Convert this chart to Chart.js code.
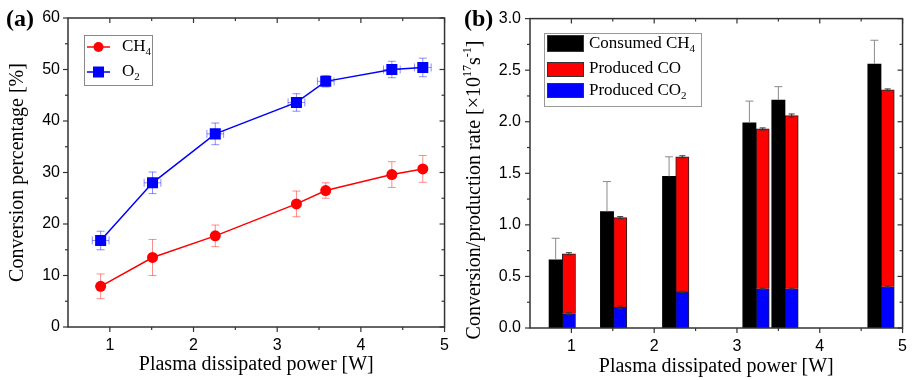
<!DOCTYPE html>
<html>
<head>
<meta charset="utf-8">
<script src="https://cdn.jsdelivr.net/npm/chart.js@4"></script>
<style>
body{margin:0;background:#fff;}
#wrap{position:relative;width:916px;height:380px;}
.box{position:absolute;top:0;width:458px;height:380px;}
</style>
</head>
<body>
<div id="wrap">
<div class="box" style="left:0"><canvas id="convChart" width="458" height="380"></canvas></div>
<div class="box" style="left:458px"><canvas id="rateChart" width="458" height="380"></canvas></div>
</div>
<script>
/* panel (a) data */
const power = [0.89, 1.51, 2.26, 3.23, 3.58, 4.37, 4.74];//W
const powerErr = [0.1, 0.1, 0.1, 0.1, 0.1, 0.1, 0.1];
const ch4Conv = [7.9, 13.5, 17.7, 23.9, 26.5, 29.6, 30.7];//%
const ch4ConvErr = [2.4, 3.5, 2.1, 2.5, 1.5, 2.5, 2.6];
const o2Conv = [16.8, 28.0, 37.5, 43.6, 47.7, 50.0, 50.4];//%
const o2ConvErr = [1.8, 2.1, 2.1, 1.7, 1.1, 1.6, 1.8];

/* panel (b) data, x1e17 s-1 */
const ratePower = [0.89, 1.51, 2.26, 3.23, 3.58, 4.74];
const consumedCH4 = [0.66, 1.13, 1.47, 1.99, 2.21, 2.56];
const consumedCH4Err = [0.21, 0.29, 0.19, 0.21, 0.13, 0.23];
const producedCO = [0.58, 0.87, 1.31, 1.55, 1.68, 1.91];
const producedCOErr = [0.01, 0.01, 0.01, 0.01, 0.015, 0.008];
const producedCO2 = [0.14, 0.20, 0.35, 0.38, 0.38, 0.40];
const producedCO2Err = [0.008, 0.015, 0.006, 0.006, 0.006, 0.006];

/* axis ticks */
const xTicks = [1, 2, 3, 4, 5];
const xMinor = [1.5, 2.5, 3.5, 4.5];
const yTicksA = [0, 10, 20, 30, 40, 50, 60];
const yMinorA = [5, 15, 25, 35, 45, 55];
const yTicksB = [0, 0.5, 1, 1.5, 2, 2.5, 3];
const yMinorB = [0.25, 0.75, 1.25, 1.75, 2.25, 2.75];

const barShift = 0.08;//W, half distance between the two bars of a pair

Chart.defaults.color = '#000';
const tickFont = {family: 'Liberation Sans', size: 16};
const titleFont = {family: 'Liberation Serif', size: 20};
const serif = 'Liberation Serif';

//text with sub/superscripts, parts = [[text, 'n'|'sub'|'sup'], ...]
function richWidth(ctx, parts, size) {
    let w = 0;
    parts.forEach(([t, k]) => {
        ctx.font = (k === 'n' ? size : Math.round(size * 0.62)) + 'px ' + serif;
        w += ctx.measureText(t).width;
    });
    return w;
}
function richText(ctx, parts, x, y, size) {
    let cx = x;
    ctx.textBaseline = 'middle';
    ctx.textAlign = 'left';
    parts.forEach(([t, k]) => {
        ctx.font = (k === 'n' ? size : Math.round(size * 0.62)) + 'px ' + serif;
        let dy = 0;
        if (k === 'sub') dy = size * 0.32;
        if (k === 'sup') dy = -size * 0.35;
        ctx.fillText(t, cx, y + dy);
        cx += ctx.measureText(t).width;
    });
}

//frame + Origin-like ticks
const frameTicks = {
    id: 'frameTicks',
    afterDraw(chart, args, opts) {
        const {ctx, chartArea: a, scales: {x, y}} = chart;
        ctx.save();
        ctx.strokeStyle = '#333';
        ctx.lineWidth = 1.5;
        ctx.strokeRect(a.left, a.top, a.right - a.left, a.bottom - a.top);
        ctx.lineWidth = 1.2;
        const seg = (x1, y1, x2, y2) => { ctx.beginPath(); ctx.moveTo(x1, y1); ctx.lineTo(x2, y2); ctx.stroke(); };
        xTicks.forEach(v => { const p = x.getPixelForValue(v); seg(p, a.bottom, p, a.bottom + 5); seg(p, a.top, p, a.top + 5); });
        xMinor.forEach(v => { const p = x.getPixelForValue(v); seg(p, a.bottom, p, a.bottom + 3); seg(p, a.top, p, a.top + 3); });
        opts.yMajor.forEach(v => { const p = y.getPixelForValue(v); seg(a.left - 5, p, a.left, p); seg(a.right - 5, p, a.right, p); });
        opts.yMinor.forEach(v => { const p = y.getPixelForValue(v); seg(a.left - 3, p, a.left, p); seg(a.right - 3, p, a.right, p); });
        //panel letter
        ctx.fillStyle = '#000';
        ctx.font = 'bold 24px ' + serif;
        ctx.textBaseline = 'middle';
        ctx.textAlign = 'left';
        ctx.fillText(opts.letter, 6, 20);
        ctx.restore();
    }
};

//error bars for the line chart
const errorBarsA = {
    id: 'errorBarsA',
    beforeDatasetsDraw(chart) {
        const {ctx, scales: {x, y}} = chart;
        ctx.save();
        chart.data.datasets.forEach((ds, di) => {
            const meta = chart.getDatasetMeta(di);
            ctx.strokeStyle = ds.errColor;
            ctx.lineWidth = 1;
            meta.data.forEach((pt, i) => {
                const v = ds.data[i];
                const y1 = y.getPixelForValue(v.y + ds.yErr[i]);
                const y2 = y.getPixelForValue(v.y - ds.yErr[i]);
                ctx.beginPath();
                ctx.moveTo(pt.x, y1); ctx.lineTo(pt.x, y2);
                ctx.moveTo(pt.x - 4, y1); ctx.lineTo(pt.x + 4, y1);
                ctx.moveTo(pt.x - 4, y2); ctx.lineTo(pt.x + 4, y2);
                if (ds.xErr) {
                    const x1 = x.getPixelForValue(v.x - ds.xErr[i]);
                    const x2 = x.getPixelForValue(v.x + ds.xErr[i]);
                    ctx.moveTo(x1, pt.y); ctx.lineTo(x2, pt.y);
                    ctx.moveTo(x1, pt.y - 4); ctx.lineTo(x1, pt.y + 4);
                    ctx.moveTo(x2, pt.y - 4); ctx.lineTo(x2, pt.y + 4);
                }
                ctx.stroke();
            });
        });
        ctx.restore();
    }
};

//error bars for the bar chart
const errorBarsB = {
    id: 'errorBarsB',
    afterDatasetsDraw(chart) {
        const {ctx, scales: {y}} = chart;
        ctx.save();
        chart.data.datasets.forEach((ds, di) => {
            const meta = chart.getDatasetMeta(di);
            ctx.strokeStyle = ds.errColor;
            ctx.lineWidth = 1;
            meta.data.forEach((bar, i) => {
                const d = y.getPixelForValue(0) - y.getPixelForValue(ds.yErr[i]);
                const top = bar.y - d;
                const bot = ds.upOnly ? bar.y : bar.y + d;
                const cap = ds.upOnly ? 4 : 3;
                ctx.beginPath();
                ctx.moveTo(bar.x, top); ctx.lineTo(bar.x, bot);
                ctx.moveTo(bar.x - cap, top); ctx.lineTo(bar.x + cap, top);
                if (!ds.upOnly) { ctx.moveTo(bar.x - cap, bot); ctx.lineTo(bar.x + cap, bot); }
                ctx.stroke();
            });
        });
        ctx.restore();
    }
};

const legendA = {
    id: 'legendA',
    afterDraw(chart) {
        const ctx = chart.ctx;
        ctx.save();
        ctx.strokeStyle = '#888';
        ctx.lineWidth = 1;
        ctx.strokeRect(84.5, 35.5, 68, 50);
        //CH4
        ctx.strokeStyle = '#ff0000'; ctx.lineWidth = 1.5;
        ctx.beginPath(); ctx.moveTo(87, 47); ctx.lineTo(110, 47); ctx.stroke();
        ctx.fillStyle = '#ff0000';
        ctx.beginPath(); ctx.arc(98.5, 47, 5, 0, Math.PI * 2); ctx.fill();
        //O2
        ctx.strokeStyle = '#0000ff';
        ctx.beginPath(); ctx.moveTo(87, 72); ctx.lineTo(110, 72); ctx.stroke();
        ctx.fillStyle = '#0000ff';
        ctx.fillRect(93, 66.5, 11, 11);
        ctx.fillStyle = '#000';
        richText(ctx, [['CH', 'n'], ['4', 'sub']], 122, 47, 17);
        richText(ctx, [['O', 'n'], ['2', 'sub']], 122, 72, 17);
        ctx.restore();
    }
};

const legendB = {
    id: 'legendB',
    afterDraw(chart) {
        const ctx = chart.ctx;
        ctx.save();
        ctx.strokeStyle = '#999';
        ctx.lineWidth = 1;
        ctx.strokeRect(86.5, 33.5, 157, 73);
        ctx.strokeStyle = '#333';
        [['#000000', 35, 17], ['#ff0000', 62, 15], ['#0000ff', 83, 15]].forEach(([c, top, h]) => {
            ctx.fillStyle = c;
            ctx.fillRect(89, top, 37, h);
            ctx.strokeRect(89.5, top + 0.5, 36, h - 1);
        });
        ctx.fillStyle = '#000';
        richText(ctx, [['Consumed CH', 'n'], ['4', 'sub']], 131, 44, 17);
        richText(ctx, [['Produced CO', 'n']], 131, 69, 17);
        richText(ctx, [['Produced CO', 'n'], ['2', 'sub']], 131, 91, 17);
        //rotated y title with superscripts
        const parts = [['Conversion/production rate [\u00d710', 'n'], ['17', 'sup'], ['s', 'n'], ['-1', 'sup'], [']', 'n']];
        const w = richWidth(ctx, parts, 20);
        ctx.translate(17, 190);
        ctx.rotate(-Math.PI / 2);
        richText(ctx, parts, -w / 2, 0, 20);
        ctx.restore();
    }
};

function xScale(fixedHeight, titlePad) {
    return {
        type: 'linear', min: 0.5, max: 5, offset: false,
        afterBuildTicks: s => { s.ticks = xTicks.map(v => ({value: v})); },
        afterFit: s => { s.height = fixedHeight; },
        grid: {display: false, drawTicks: false, offset: false},
        border: {display: false},
        ticks: {font: tickFont, padding: 9, maxRotation: 0},
        title: {display: true, text: 'Plasma dissipated power [W]', font: titleFont, padding: {top: 0, bottom: titlePad}}
    };
}

/* Panel (a) */
new Chart(document.getElementById('convChart'), {
    type: 'scatter',
    data: {
        datasets: [{
            label: 'CH4',
            data: power.map((p, i) => ({x: p, y: ch4Conv[i]})),
            showLine: true,
            borderColor: '#ff0000', backgroundColor: '#ff0000', borderWidth: 1.5,
            pointStyle: 'circle', pointRadius: 5.5, pointBorderWidth: 0,
            yErr: ch4ConvErr, errColor: 'rgba(255,0,0,0.45)'
        }, {
            label: 'O2',
            data: power.map((p, i) => ({x: p, y: o2Conv[i]})),
            showLine: true,
            borderColor: '#0000ff', backgroundColor: '#0000ff', borderWidth: 1.5,
            pointStyle: 'rect', pointRadius: 7.8, pointBorderWidth: 0,
            yErr: o2ConvErr, xErr: powerErr, errColor: 'rgba(0,0,255,0.45)'
        }]
    },
    options: {
        responsive: false,
        animation: false,
        layout: {padding: {left: 0, right: 11, top: 18, bottom: 0}},
        scales: {
            x: xScale(53, 3),
            y: {
                min: 0, max: 60,
                afterBuildTicks: s => { s.ticks = yTicksA.map(v => ({value: v})); },
                afterFit: s => { s.width = 68; },
                grid: {display: false, drawTicks: false},
                border: {display: false},
                ticks: {font: tickFont, padding: 8},
                title: {display: true, text: 'Conversion percentage [%]', font: titleFont, padding: {top: 6, bottom: 0}}
            }
        },
        plugins: {
            legend: {display: false},
            tooltip: {enabled: false},
            frameTicks: {letter: '(a)', yMajor: yTicksA, yMinor: yMinorA}
        }
    },
    plugins: [errorBarsA, frameTicks, legendA]
});

/* Panel (b) */
new Chart(document.getElementById('rateChart'), {
    type: 'bar',
    data: {
        datasets: [{
            label: 'Consumed CH4',
            data: ratePower.map((p, i) => ({x: p - barShift, y: consumedCH4[i]})),
            backgroundColor: '#000000', borderColor: '#000000', borderWidth: 0,
            yErr: consumedCH4Err, upOnly: true, errColor: '#8a8a8a'
        }, {
            label: 'Produced CO2',
            data: ratePower.map((p, i) => ({x: p + barShift, y: producedCO2[i]})),
            backgroundColor: '#0000ff', borderColor: '#222', borderWidth: 1,
            yErr: producedCO2Err, errColor: '#333'
        }, {
            label: 'Produced CO',
            data: ratePower.map((p, i) => ({x: p + barShift, y: producedCO[i]})),
            backgroundColor: '#ff0000', borderColor: '#222', borderWidth: 1,
            yErr: producedCOErr, errColor: '#333'
        }]
    },
    options: {
        responsive: false,
        animation: false,
        datasets: {bar: {grouped: false, categoryPercentage: 1, barPercentage: 1}},
        layout: {padding: {left: 0, right: 8, top: 18, bottom: 0}},
        scales: {
            x: xScale(52, 1),
            y: {
                stacked: true,
                min: 0, max: 3,
                afterBuildTicks: s => { s.ticks = yTicksB.map(v => ({value: v})); },
                afterFit: s => { s.width = 72; },
                grid: {display: false, drawTicks: false},
                border: {display: false},
                ticks: {font: tickFont, padding: 9, callback: v => v.toFixed(1)}
            }
        },
        plugins: {
            legend: {display: false},
            tooltip: {enabled: false},
            frameTicks: {letter: '(b)', yMajor: yTicksB, yMinor: yMinorB}
        }
    },
    plugins: [errorBarsB, frameTicks, legendB]
});
</script>
</body>
</html>
